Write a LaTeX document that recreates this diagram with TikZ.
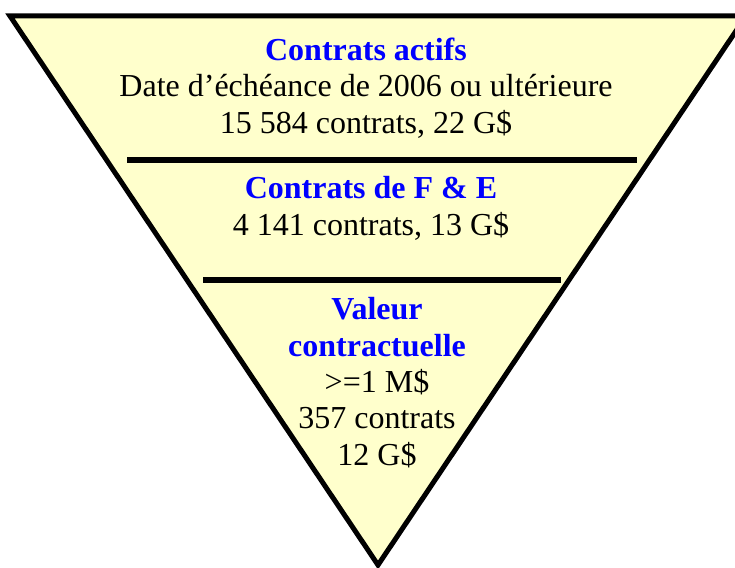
\documentclass[tikz,border=0pt]{standalone}
\usepackage{fontspec}
\setmainfont{Liberation Serif}
\usepackage{xcolor}
\definecolor{funnelfill}{RGB}{255,255,204}
\definecolor{tierblue}{RGB}{0,0,255}
\newcommand{\tiertitle}[1]{\textcolor{tierblue}{\textbf{#1}}}
\tikzset{
    funnel/.style={draw=black, fill=funnelfill, line width=5pt, line join=miter},
    divider/.style={draw=black, line width=6pt},
    tier/.style={align=center, font=\fontsize{32}{36.3}\selectfont, inner sep=0pt, anchor=base}
}

\begin{document}
\begin{tikzpicture}[x=1pt, y=-1pt]
      \useasboundingbox (0,0) rectangle (735,567);
      \clip (0,0) rectangle (735,567);

      \coordinate (top-left) at (10,16);
      \coordinate (top-right) at (746,16);
      \coordinate (apex) at (378,565);
      \draw[funnel] (top-left) -- (top-right) -- (apex) -- cycle;

      \coordinate (cut-a-left) at (127,160);
      \coordinate (cut-a-right) at (637,160);
      \coordinate (cut-b-left) at (203,280);
      \coordinate (cut-b-right) at (561,280);
      \draw[divider] (cut-a-left) -- (cut-a-right);
      \draw[divider] (cut-b-left) -- (cut-b-right);

      % base anchor sits on the last line of each tier
      \node[tier] (actifs) at (366,133)
          {\tiertitle{Contrats actifs}\\Date d’échéance de 2006 ou ultérieure\\15 584 contrats, 22 G\$};
      \node[tier] (fe) at (371,235)
          {\tiertitle{Contrats de F \& E}\\4 141 contrats, 13 G\$};
      \node[tier] (valeur) at (377,465)
          {\tiertitle{Valeur}\\\tiertitle{contractuelle}\\>=1 M\$\\357 contrats\\12 G\$};
    \end{tikzpicture}
\end{document}
